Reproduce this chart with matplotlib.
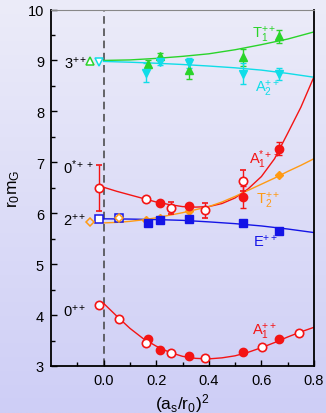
import numpy as np
import matplotlib
matplotlib.use("Agg")
import matplotlib.pyplot as plt
from matplotlib.ticker import FixedLocator, FormatStrFormatter

plt.rcParams['font.family'] = ['Liberation Sans', 'DejaVu Sans']
plt.rcParams['mathtext.fontset'] = 'custom'
plt.rcParams['mathtext.rm'] = 'Liberation Sans'
plt.rcParams['mathtext.it'] = 'Liberation Sans'
plt.rcParams['mathtext.default'] = 'regular'

# ---------------- data ----------------
# 0++ (A1++)
a1_open_x = [0.059, 0.162, 0.257, 0.386, 0.603, 0.743]
a1_open_y = [3.93, 3.45, 3.25, 3.15, 3.38, 3.65]
a1_fill_x = [0.168, 0.213, 0.325, 0.530, 0.668]
a1_fill_y = [3.53, 3.31, 3.19, 3.27, 3.53]
a1_cont = (-0.019, 4.20)
curve_x = [0.0, 0.05, 0.1, 0.15, 0.2, 0.25, 0.3, 0.35, 0.4, 0.45, 0.5, 0.55, 0.6, 0.65, 0.7, 0.75, 0.8]
a1_curve = [4.23, 3.98, 3.74, 3.54, 3.39, 3.27, 3.19, 3.15, 3.14, 3.16, 3.20, 3.27, 3.36, 3.46, 3.57, 3.67, 3.76]

# 0*++ (A1*++)
a1s_open_x = [0.162, 0.257, 0.386, 0.530]
a1s_open_y = [6.27, 6.11, 6.06, 6.64]
a1s_open_e = [0.05, 0.12, 0.15, 0.20]
a1s_fill_x = [0.213, 0.325, 0.530, 0.668]
a1s_fill_y = [6.20, 6.14, 6.32, 7.27]
a1s_fill_e = [0.03, 0.03, 0.21, 0.12]
a1s_cont = (-0.019, 6.50, 0.45)
a1s_curve = [6.51, 6.43, 6.36, 6.29, 6.22, 6.17, 6.13, 6.12, 6.13, 6.19, 6.30, 6.48, 6.72, 7.07, 7.57, 8.08, 8.68]

# T2++
t2_x = [0.162, 0.213, 0.325, 0.668]
t2_y = [5.87, 5.91, 6.04, 6.75]
t2_open_x = [-0.051, 0.059]
t2_open_y = [5.83, 5.90]
t2_curve = [5.81, 5.82, 5.84, 5.87, 5.91, 5.96, 6.01, 6.07, 6.13, 6.22, 6.33, 6.45, 6.57, 6.69, 6.82, 6.94, 7.07]

# E++
e_x = [0.168, 0.213, 0.325, 0.530, 0.668]
e_y = [5.80, 5.86, 5.88, 5.80, 5.65]
e_err = [0.04, 0.02, 0.02, 0.02, 0.02]
e_open_x = [-0.019, 0.059]
e_open_y = [5.89, 5.90]
line_x = [0.0, 0.1, 0.2, 0.3, 0.4, 0.5, 0.6, 0.7, 0.8]
e_curve = [5.89, 5.885, 5.875, 5.86, 5.83, 5.795, 5.75, 5.69, 5.62]

# T1++
t1_x = [0.168, 0.213, 0.325, 0.530, 0.668]
t1_y = [8.93, 9.08, 8.81, 9.06, 9.47]
t1_e = [0.08, 0.06, 0.17, 0.17, 0.12]
t1_cont = (-0.051, 8.99)
t1_curve = [9.00, 9.01, 9.04, 9.08, 9.13, 9.21, 9.31, 9.42, 9.56]

# A2++
a2_x = [0.162, 0.213, 0.325, 0.530, 0.668]
a2_y = [8.76, 8.97, 8.95, 8.74, 8.74]
a2_e = [0.18, 0.06, 0.10, 0.20, 0.12]
a2_cont = (-0.019, 8.97)
a2_curve = [8.98, 8.965, 8.945, 8.92, 8.89, 8.855, 8.81, 8.745, 8.67]

x_major = [0.0, 0.2, 0.4, 0.6, 0.8]
x_minor = [-0.1, 0.1, 0.3, 0.5, 0.7]
y_major = [3, 4, 5, 6, 7, 8, 9, 10]
y_minor = [3.5, 4.5, 5.5, 6.5, 7.5, 8.5, 9.5]

RED = '#f41414'
GREEN = '#2ad42a'
CYAN = '#10dde8'
BLUE = '#1414e6'
ORANGE = '#ff9a14'

# ---------------- figure ----------------
fig = plt.figure(figsize=(3.26, 4.14), dpi=100)
bg = fig.add_axes([0, 0, 1, 1], zorder=-10)
grad = np.linspace(0, 1, 256).reshape(-1, 1)
top = np.array([236, 236, 249]) / 255.0
bot = np.array([206, 206, 246]) / 255.0
img = top[None, None, :] * (1 - grad[:, :, None]) + bot[None, None, :] * grad[:, :, None]
bg.imshow(img, aspect='auto', extent=[0, 1, 0, 1])
bg.axis('off')

ax = fig.add_axes([51/326, 1 - 367/414, (314-51)/326, (367-10.5)/414])
ax.patch.set_alpha(0)
ax.set_xlim(-0.2, 0.8)
ax.set_ylim(3, 10)

ax.axvline(0, color='#404040', lw=1.1, dashes=(5, 3), zorder=1)

ms = 6
ekw = dict(capsize=2.5, elinewidth=1.0, capthick=1.0)

# 0++
ax.plot(curve_x, a1_curve, color=RED, lw=1.0, zorder=2)
ax.plot(a1_fill_x, a1_fill_y, 'o', color=RED, ms=ms, zorder=3)
ax.plot(a1_open_x, a1_open_y, 'o', mfc='white', mec=RED, mew=1.2, ms=ms, zorder=4)
ax.plot([a1_cont[0]], [a1_cont[1]], 'o', mfc='white', mec=RED, mew=1.2, ms=ms, zorder=4)

# 0*++
ax.plot(curve_x, a1s_curve, color=RED, lw=1.0, zorder=2, clip_on=True)
ax.plot([a1s_cont[0], 0.0], [a1s_cont[1], a1s_curve[0]], color=RED, lw=1.0, zorder=2)
ax.errorbar(a1s_fill_x, a1s_fill_y, yerr=a1s_fill_e, fmt='o', color=RED, ms=ms, zorder=3, **ekw)
ax.errorbar(a1s_open_x, a1s_open_y, yerr=a1s_open_e, fmt='o', color=RED, mfc='white', mec=RED, mew=1.2, ms=ms, zorder=4, **ekw)
ax.errorbar([a1s_cont[0]], [a1s_cont[1]], yerr=[a1s_cont[2]], fmt='o', color=RED, mfc='white', mec=RED, mew=1.2, ms=ms, zorder=4, **ekw)

# E++
ax.plot(line_x, e_curve, color=BLUE, lw=1.0, zorder=2)
ax.errorbar(e_x, e_y, yerr=e_err, fmt='s', color=BLUE, ms=5.5, zorder=3, **ekw)
ax.plot(e_open_x, e_open_y, 's', mfc='white', mec=BLUE, mew=1.1, ms=5.5, zorder=4)

# T2++
ax.plot(curve_x, t2_curve, color=ORANGE, lw=1.0, zorder=2)
ax.plot(t2_x, t2_y, 'D', color=ORANGE, ms=4.5, zorder=3)
ax.plot(t2_open_x, t2_open_y, 'D', mfc='none', mec=ORANGE, mew=1.1, ms=4.5, zorder=5)

# T1++
ax.plot(line_x, t1_curve, color=GREEN, lw=1.0, zorder=2)
ax.errorbar(t1_x, t1_y, yerr=t1_e, fmt='^', color=GREEN, ms=ms, zorder=3, **ekw)
ax.plot([t1_cont[0]], [t1_cont[1]], '^', mfc='white', mec=GREEN, mew=1.1, ms=ms, zorder=4)

# A2++
ax.plot(line_x, a2_curve, color=CYAN, lw=1.0, zorder=2)
ax.errorbar(a2_x, a2_y, yerr=a2_e, fmt='v', color=CYAN, ms=ms, zorder=3, **ekw)
ax.plot([a2_cont[0]], [a2_cont[1]], 'v', mfc='white', mec=CYAN, mew=1.1, ms=ms, zorder=4)

# labels
fs = 10.5
ax.text(-0.150, 8.96, r'3$^{++}$', fontsize=fs, ha='left', va='center')
ax.text(-0.153, 6.92, r'0$^{*++}$', fontsize=fs, ha='left', va='center')
ax.text(-0.153, 5.87, r'2$^{++}$', fontsize=fs, ha='left', va='center')
ax.text(-0.153, 4.08, r'0$^{++}$', fontsize=fs, ha='left', va='center')

ax.text(0.563, 9.44, r'T$_1^{++}$', fontsize=fs, color=GREEN, ha='left', va='baseline')
ax.text(0.576, 8.38, r'A$_2^{++}$', fontsize=fs, color=CYAN, ha='left', va='baseline')
ax.text(0.554, 6.99, r'A$_1^{*++}$', fontsize=fs, color=RED, ha='left', va='baseline')
ax.text(0.580, 6.18, r'T$_2^{++}$', fontsize=fs, color=ORANGE, ha='left', va='baseline')
ax.text(0.569, 5.36, r'E$^{++}$', fontsize=fs, color=BLUE, ha='left', va='baseline')
ax.text(0.565, 3.61, r'A$_1^{++}$', fontsize=fs, color=RED, ha='left', va='baseline')

# axes styling
ax.xaxis.set_major_locator(FixedLocator(x_major))
ax.xaxis.set_minor_locator(FixedLocator(x_minor))
ax.yaxis.set_major_locator(FixedLocator(y_major))
ax.yaxis.set_minor_locator(FixedLocator(y_minor))
ax.xaxis.set_major_formatter(FormatStrFormatter('%.1f'))
ax.tick_params(which='both', direction='in', top=False, right=False, width=1.0, labelsize=10.5)
ax.tick_params(which='major', length=4, pad=5)
ax.tick_params(which='minor', length=3)
for s in ['left', 'bottom', 'right']:
    ax.spines[s].set_linewidth(1.3)
    ax.spines[s].set_color('black')
ax.spines['top'].set_color('#888888')
ax.spines['top'].set_linewidth(0.8)

ax.set_xlabel(r'(a$_s$/r$_0$)$^2$', fontsize=12.5, labelpad=3)
ax.set_ylabel(r'r$_0$m$_G$', fontsize=12.5, labelpad=4)

fig.savefig('out.png', dpi=100)
